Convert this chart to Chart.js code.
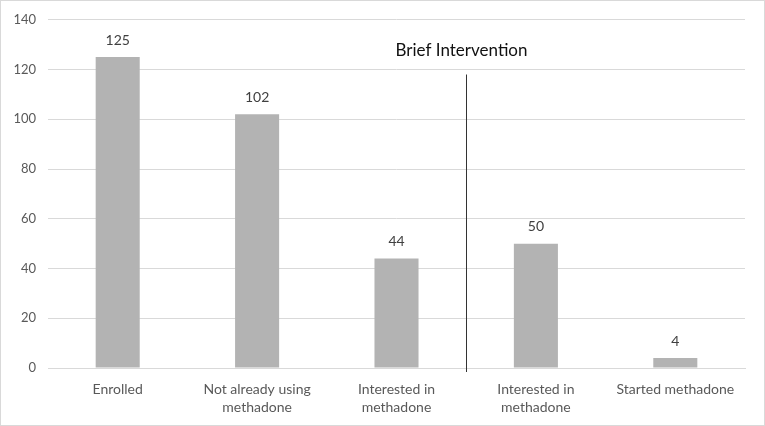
<!DOCTYPE html>
<html>
<head>
<meta charset="utf-8">
<script src="https://cdn.jsdelivr.net/npm/chart.js@4"></script>
<style>
  html, body { margin: 0; padding: 0; background: #fff; }
  #wrap { width: 765px; height: 426px; position: relative; }
</style>
</head>
<body>
<div id="wrap"><canvas id="chart"></canvas></div>
<script>
// data
const categories = [
  "Enrolled",
  ["Not already using", "methadone"],
  ["Interested in", "methadone"],
  ["Interested in", "methadone"],
  "Started methadone"
];
const counts = [125, 102, 44, 50, 4];
const yTicks = [0, 20, 40, 60, 80, 100, 120, 140];

// divider between the two phases (category index position) and its label
const dividerAt = 2.5;
const dividerTop = 118;
const dividerLabel = "Brief Intervention";

const FONT = "Lato, 'Open Sans', sans-serif";

const extras = {
  id: "extras",
  beforeDraw(chart) {
    const ctx = chart.ctx;
    ctx.save();
    ctx.fillStyle = "#fff";
    ctx.fillRect(0, 0, chart.width, chart.height);
    ctx.strokeStyle = "#d9d9d9";
    ctx.lineWidth = 1;
    ctx.strokeRect(0.5, 0.5, chart.width - 1, chart.height - 1);
    ctx.restore();
  },
  afterDatasetsDraw(chart) {
    const ctx = chart.ctx;
    const meta = chart.getDatasetMeta(0);
    ctx.save();
    ctx.font = "14px " + FONT;
    ctx.fillStyle = "#404040";
    ctx.textAlign = "center";
    ctx.textBaseline = "bottom";
    meta.data.forEach((bar, i) => {
      ctx.fillText(String(counts[i]), bar.x, bar.y - 10);
    });

    const xs = chart.scales.x, ys = chart.scales.y;
    const x0 = xs.getPixelForValue(2), x1 = xs.getPixelForValue(3);
    const lx = Math.round(x0 + (x1 - x0) * (dividerAt - 2)) + 0.5;
    const top = ys.getPixelForValue(dividerTop);
    ctx.strokeStyle = "#333";
    ctx.lineWidth = 1;
    ctx.beginPath();
    ctx.moveTo(lx, top);
    ctx.lineTo(lx, ys.bottom + 4);
    ctx.stroke();

    ctx.font = "17px " + FONT;
    ctx.fillStyle = "#111";
    ctx.textBaseline = "middle";
    ctx.fillText(dividerLabel, lx - 5, top - 24);
    ctx.restore();
  }
};

new Chart(document.getElementById("chart"), {
  type: "bar",
  data: {
    labels: categories,
    datasets: [{
      data: counts,
      backgroundColor: "#b3b3b3",
      barPercentage: 0.316,
      categoryPercentage: 1
    }]
  },
  options: {
    responsive: true,
    maintainAspectRatio: false,
    animation: false,
    layout: { padding: { top: 11, right: 20, bottom: 10, left: 0 } },
    plugins: {
      legend: { display: false },
      tooltip: { enabled: false }
    },
    scales: {
      x: {
        afterFit(scale) { scale.height = 48; },
        grid: { display: false, drawTicks: false },
        border: { color: "#d9d9d9" },
        ticks: {
          color: "#595959",
          font: { family: FONT, size: 14, lineHeight: "18px" },
          padding: 12,
          maxRotation: 0,
          autoSkip: false
        }
      },
      y: {
        min: 0,
        max: 140,
        afterBuildTicks(scale) {
          scale.ticks = yTicks.map(v => ({ value: v }));
        },
        afterFit(scale) { scale.width = 48; },
        grid: { color: "#d9d9d9", drawTicks: false },
        border: { display: false },
        ticks: {
          color: "#595959",
          font: { family: FONT, size: 13 },
          padding: 12
        }
      }
    }
  },
  plugins: [extras]
});
</script>
</body>
</html>
